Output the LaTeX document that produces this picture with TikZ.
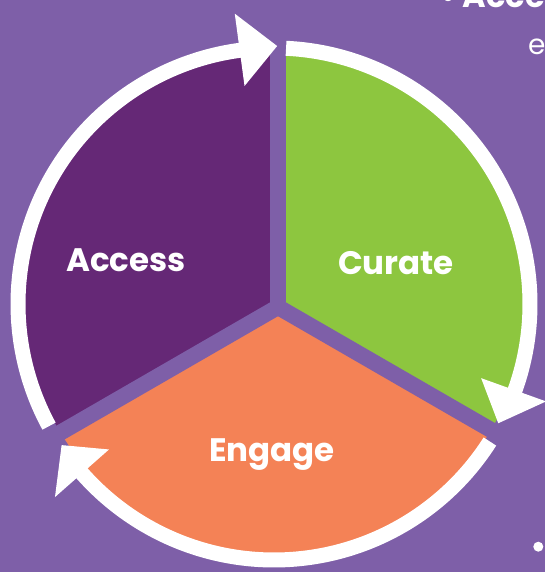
\documentclass[tikz,border=0pt]{standalone}
\usepackage{fontspec}
\setmainfont{Poppins}
\usetikzlibrary{calc}
\definecolor{bg}{HTML}{7E5FA8}
\definecolor{accessc}{HTML}{652876}
\definecolor{curatec}{HTML}{8DC63F}
\definecolor{engagec}{HTML}{F48256}
\tikzset{
  gapline/.style={draw=bg, line width=16pt, line cap=butt},
  ring/.style={draw=white, line width=15pt, line cap=butt},
  arrowtip/.style={fill=white, draw=none},
  seglabel/.style={text=white, font=\fontsize{32.5}{36}\selectfont\bfseries, inner sep=0pt},
  sidetext/.style={text=white, inner sep=0pt, anchor=base west},
}
\begin{document}
\begin{tikzpicture}[x=1pt,y=1pt]
\useasboundingbox (0,0) rectangle (545,572);
\fill[bg] (0,0) rectangle (545,572);
\clip (0,0) rectangle (545,572);
\coordinate (C) at (275,268);
\coordinate (J) at (278,265);
\coordinate (R) at (274,268);
% sectors, clipped to the disc
\begin{scope}
  \clip (C) circle[radius=250];
  \fill[accessc] (J) -- ++(90:400) -- ($(J)+(150:600)$) -- ($(J)+(210:400)$) -- cycle;
  \fill[curatec] (J) -- ++(-30:400) -- ($(J)+(30:600)$) -- ($(J)+(90:400)$) -- cycle;
  \fill[engagec] (J) -- ++(210:400) -- ($(J)+(270:600)$) -- ($(J)+(330:400)$) -- cycle;
\end{scope}
% gaps
\draw[gapline] (J) -- ++(90:300);
\draw[gapline] (J) -- ++(-30:300);
\draw[gapline] (J) -- ++(210:300);
% ring arcs with arrowheads
\draw[ring] ($(R)+(208.5:256)$) arc[start angle=208.5, end angle=97.2, radius=256];
\fill[arrowtip] ($(R)+(97.7:220)$) -- ($(R)+(97.7:293)$) -- ($(R)+(89.3:258)$) -- cycle;
\draw[ring] ($(R)+(87.3:256)$) arc[start angle=87.3, end angle=-20.2, radius=256];
\fill[arrowtip] ($(R)+(-19.7:220)$) -- ($(R)+(-19.7:289)$) -- ($(R)+(-28:254)$) -- cycle;
\draw[ring] ($(R)+(-32.5:256)$) arc[start angle=-32.5, end angle=-139.1, radius=256];
\fill[arrowtip] ($(R)+(-138.6:220)$) -- ($(R)+(-138.6:292)$) -- ($(R)+(-146.4:255)$) -- cycle;
% labels
\node[seglabel] (access) at (126,312) {Access};
\node[seglabel] (curate) at (396,309) {Curate};
\node[seglabel] (engage) at (272,117) {Engage};
% cut-off surrounding text
\node[sidetext, font=\fontsize{32}{36}\selectfont\bfseries] (toptext) at (440,564) {• Access};
\node[sidetext, font=\fontsize{28}{32}\selectfont] (secondline) at (528,517) {e};
\fill[white] (538.3,25.3) circle[radius=5];
\end{tikzpicture}
\end{document}
